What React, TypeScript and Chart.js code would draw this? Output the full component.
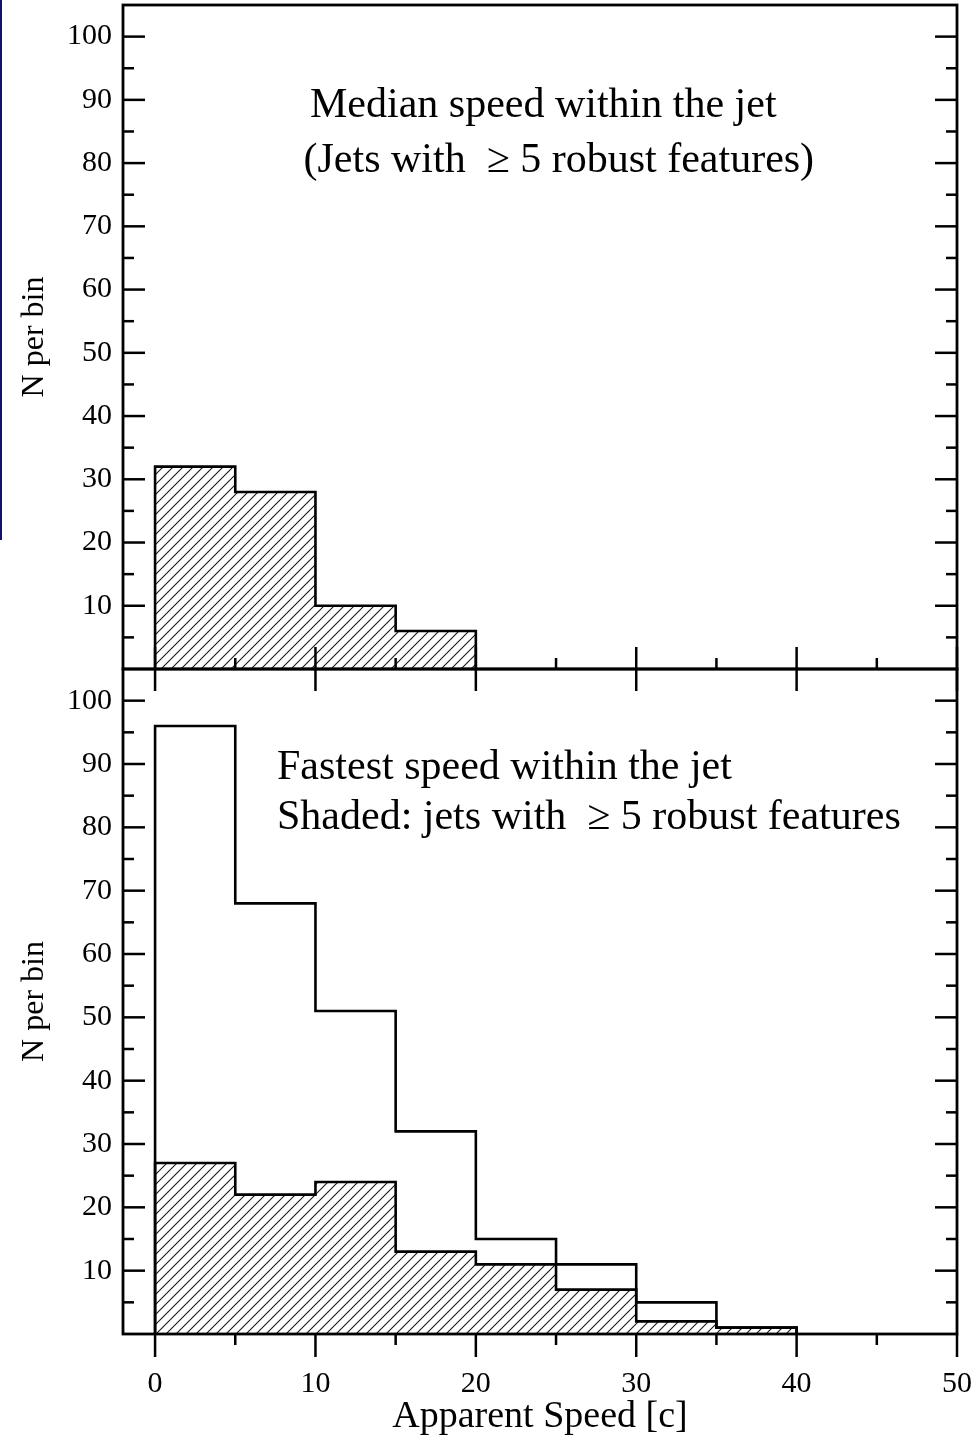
import React, { useEffect, useRef } from 'react';
import { Chart, registerables } from 'chart.js';

Chart.register(...registerables);

// ---------- data ----------
const binEdges = [0, 5, 10, 15, 20, 25, 30, 35, 40];
const medianRobustCounts = [32, 28, 10, 6];
const fastestAllCounts = [96, 68, 51, 32, 15, 11, 5, 1];
const fastestRobustCounts = [27, 22, 24, 13, 11, 7, 2, 1];

const yTickLabels = [10, 20, 30, 40, 50, 60, 70, 80, 90, 100];
const yMinorTicks = [5, 15, 25, 35, 45, 55, 65, 75, 85, 95];
const xTickLabels = [0, 10, 20, 30, 40, 50];
const xMinorTicks = [5, 15, 25, 35, 45];

const X_MIN = -2;
const X_MAX = 50;
const Y_MIN = 0;
const Y_MAX = 105;

const topTitleLines = ['Median speed within the jet', ' (Jets with  \u2265 5 robust features)'];
const bottomTitleLines = ['Fastest speed within the jet', 'Shaded: jets with  \u2265 5 robust features'];
const yAxisTitle = 'N per bin';
const xAxisTitle = 'Apparent Speed [c]';

const FONT = "'Liberation Serif', 'Times New Roman', serif";

function stepPoints(counts: number[]) {
  const pts: { x: number; y: number }[] = [{ x: binEdges[0], y: 0 }];
  counts.forEach((c, i) => pts.push({ x: binEdges[i], y: c }));
  pts.push({ x: binEdges[counts.length], y: 0 });
  return pts;
}

function makeHatch(): CanvasPattern | string {
  const p = 10;
  const c = document.createElement('canvas');
  c.width = p;
  c.height = p;
  const g = c.getContext('2d');
  if (!g) return 'rgba(0,0,0,0.2)';
  g.strokeStyle = 'rgba(0,0,0,0.9)';
  g.lineWidth = 1.1;
  g.beginPath();
  g.moveTo(-1, p + 1);
  g.lineTo(p + 1, -1);
  g.moveTo(-2, 2);
  g.lineTo(2, -2);
  g.moveTo(p - 2, p + 2);
  g.lineTo(p + 2, p - 2);
  g.stroke();
  const pat = g.createPattern(c, 'repeat');
  return pat || 'rgba(0,0,0,0.2)';
}

const frameTicksPlugin = {
  id: 'frameTicks',
  afterDatasetsDraw(chart: any, _args: any, opts: any) {
    const { ctx, chartArea: a, scales } = chart;
    const x = scales.x;
    const y = scales.y;
    const line = (x1: number, y1: number, x2: number, y2: number) => {
      ctx.beginPath();
      ctx.moveTo(x1, y1);
      ctx.lineTo(x2, y2);
      ctx.stroke();
    };
    ctx.save();
    ctx.strokeStyle = '#000';
    ctx.lineWidth = 2.8;
    ctx.lineCap = 'butt';
    ctx.strokeRect(a.left, a.top, a.right - a.left, a.bottom - a.top);
    ctx.lineWidth = 2.5;
    // y ticks (inward, both sides)
    yTickLabels.forEach((v) => {
      const py = y.getPixelForValue(v);
      line(a.left, py, a.left + 22, py);
      line(a.right, py, a.right - 22, py);
    });
    yMinorTicks.forEach((v) => {
      const py = y.getPixelForValue(v);
      line(a.left, py, a.left + 11, py);
      line(a.right, py, a.right - 11, py);
    });
    // x ticks
    if (opts.mode === 'top') {
      xTickLabels.forEach((v) => {
        const px = x.getPixelForValue(v);
        line(px, a.bottom - 22, px, a.bottom + 22);
      });
      xMinorTicks.forEach((v) => {
        const px = x.getPixelForValue(v);
        line(px, a.bottom - 11, px, a.bottom);
      });
    } else {
      xTickLabels.forEach((v) => {
        const px = x.getPixelForValue(v);
        line(px, a.bottom, px, a.bottom + 23);
      });
      xMinorTicks.forEach((v) => {
        const px = x.getPixelForValue(v);
        line(px, a.bottom, px, a.bottom + 11);
      });
    }
    // annotation text
    ctx.fillStyle = '#000';
    ctx.textAlign = 'left';
    ctx.textBaseline = 'alphabetic';
    ctx.font = `42px ${FONT}`;
    (opts.texts || []).forEach((t: any) => ctx.fillText(t.text, t.x, t.y));
    ctx.restore();
  },
};

const zeroPad = (s: any) => {
  s.paddingLeft = 0;
  s.paddingRight = 0;
  s.paddingTop = 0;
  s.paddingBottom = 0;
};

function buildConfig(mode: 'top' | 'bottom', datasets: any[], texts: any[]) {
  const isTop = mode === 'top';
  return {
    type: 'line' as const,
    data: { datasets },
    options: {
      animation: false,
      responsive: false,
      maintainAspectRatio: false,
      layout: { padding: { left: 0, right: 19, top: isTop ? 5 : 29, bottom: 0 } },
      plugins: {
        legend: { display: false },
        tooltip: { enabled: false },
        frameTicks: { mode, texts },
      },
      elements: { point: { radius: 0 }, line: { tension: 0 } },
      scales: {
        x: {
          type: 'linear',
          min: X_MIN,
          max: X_MAX,
          grid: { display: false, drawTicks: false },
          border: { display: false },
          ticks: {
            display: !isTop,
            color: '#000',
            font: { family: FONT, size: 30 },
            padding: 32,
            maxRotation: 0,
          },
          title: {
            display: !isTop,
            text: xAxisTitle,
            color: '#000',
            font: { family: FONT, size: 38 },
            padding: { top: 0, bottom: 0 },
          },
          afterBuildTicks: (s: any) => {
            s.ticks = xTickLabels.map((v) => ({ value: v }));
          },
          afterFit: (s: any) => {
            s.height = isTop ? 31 : 106;
            zeroPad(s);
          },
        },
        y: {
          type: 'linear',
          min: Y_MIN,
          max: Y_MAX,
          grid: { display: false, drawTicks: false },
          border: { display: false },
          ticks: {
            color: '#000',
            font: { family: FONT, size: 30 },
            padding: 11,
          },
          title: {
            display: true,
            text: yAxisTitle,
            color: '#000',
            font: { family: FONT, size: 32 },
            padding: { top: 15, bottom: 0 },
          },
          afterBuildTicks: (s: any) => {
            s.ticks = yTickLabels.map((v) => ({ value: v }));
          },
          afterFit: (s: any) => {
            s.width = 123;
            zeroPad(s);
          },
        },
      },
    },
    plugins: [frameTicksPlugin],
  };
}

export default function App() {
  const topRef = useRef<HTMLCanvasElement>(null);
  const botRef = useRef<HTMLCanvasElement>(null);

  useEffect(() => {
    const hatch = makeHatch();
    const outline = {
      borderColor: '#000',
      borderWidth: 2.6,
      borderJoinStyle: 'miter',
      stepped: 'before',
      pointRadius: 0,
    };
    const topChart = new Chart(
      topRef.current as HTMLCanvasElement,
      buildConfig(
        'top',
        [
          {
            label: 'Median speed (>=5 robust features)',
            data: stepPoints(medianRobustCounts),
            ...outline,
            fill: 'origin',
            backgroundColor: hatch,
          },
        ],
        [
          { text: topTitleLines[0], x: 310, y: 117 },
          { text: topTitleLines[1], x: 293, y: 172 },
        ]
      ) as any
    );
    const botChart = new Chart(
      botRef.current as HTMLCanvasElement,
      buildConfig(
        'bottom',
        [
          {
            label: 'Fastest speed, all jets',
            data: stepPoints(fastestAllCounts),
            ...outline,
            fill: false,
          },
          {
            label: 'Fastest speed, >=5 robust features',
            data: stepPoints(fastestRobustCounts),
            ...outline,
            fill: 'origin',
            backgroundColor: hatch,
          },
        ],
        [
          { text: bottomTitleLines[0], x: 277, y: 139 },
          { text: bottomTitleLines[1], x: 277, y: 189 },
        ]
      ) as any
    );
    return () => {
      topChart.destroy();
      botChart.destroy();
    };
  }, []);

  return (
    <div style={{ position: 'absolute', left: 0, top: 0, width: 976, height: 1440, background: '#fff', overflow: 'hidden' }}>
      <div style={{ position: 'absolute', left: 0, top: 0, width: 2, height: 540, background: '#12126e' }} />
      <canvas ref={topRef} width={976} height={700} style={{ position: 'absolute', left: 0, top: 0, display: 'block' }} />
      <canvas ref={botRef} width={976} height={800} style={{ position: 'absolute', left: 0, top: 640, display: 'block' }} />
    </div>
  );
}
